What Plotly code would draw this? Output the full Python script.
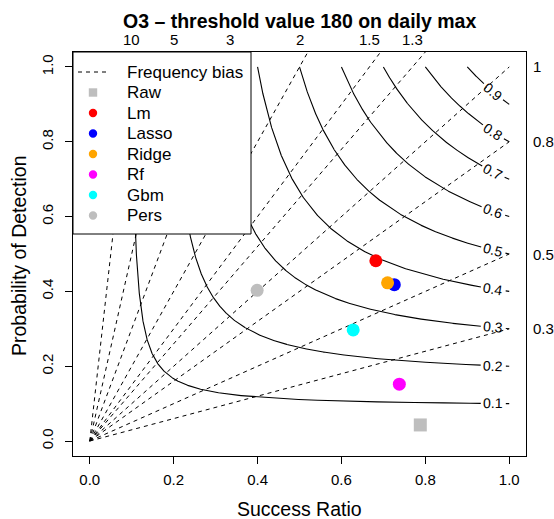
import numpy as np
import plotly.graph_objects as go

# ---------------- data ----------------
model_names = ["Raw", "Lm", "Lasso", "Ridge", "Rf", "Gbm", "Pers"]
model_colors = ["#BEBEBE", "#FF0000", "#0000FF", "#FFA500", "#FF00FF", "#00FFFF", "#BEBEBE"]
model_symbols = ["square", "circle", "circle", "circle", "circle", "circle", "circle"]
success_ratio = [0.788, 0.682, 0.726, 0.710, 0.738, 0.628, 0.399]
prob_detection = [0.043, 0.482, 0.418, 0.423, 0.152, 0.297, 0.403]

bias_levels = [0.3, 0.5, 0.8, 1, 1.3, 1.5, 2, 3, 5, 10]
top_bias_labels = [10, 5, 3, 2, 1.5, 1.3]
right_bias_labels = [1, 0.8, 0.5, 0.3]
csi_levels = [0.1, 0.2, 0.3, 0.4, 0.5, 0.6, 0.7, 0.8, 0.9]
axis_ticks = [0.0, 0.2, 0.4, 0.6, 0.8, 1.0]

# ---------------- layout geometry ----------------
W, H = 554, 519
L, R, T, B = 73, 28, 52, 63
PW, PH = W - L - R, H - T - B
RNG = [-0.04, 1.04]
FONT = "Liberation Sans, Arial, Helvetica, sans-serif"


def px_x(p):
    return (p - L) / PW


def px_y(p):
    return (H - B - p) / PH


def to_px(s, p):
    X = (s - RNG[0]) / (RNG[1] - RNG[0]) * PW
    Y = (p - RNG[0]) / (RNG[1] - RNG[0]) * PH
    return X, Y


fig = go.Figure()

# frequency bias lines (dashed)
for b in bias_levels:
    xe = min(1.0, RNG[1] / b)
    fig.add_trace(go.Scatter(x=[0, xe], y=[0, b * xe], mode="lines",
                             line=dict(color="black", width=1, dash="4px,4px"),
                             hoverinfo="skip", showlegend=False))

# CSI contours with label gaps
LAB_SR = 0.962
annotations = []
for c in csi_levels:
    s = np.linspace(c, 1.0, 3000)
    p = 1.0 / (1.0 / c - 1.0 / s + 1.0)
    X, Y = to_px(s, p)
    pl = 1.0 / (1.0 / c - 1.0 / LAB_SR + 1.0)
    lx, ly = to_px(LAB_SR, pl)
    d = np.hypot(X - lx, Y - ly)
    half = 12.5
    xs, ys = [], []
    m1 = (s < LAB_SR) & (d > half)
    m2 = (s > LAB_SR) & (d > half)
    xs += list(s[m1]) + [None] + list(s[m2])
    ys += list(p[m1]) + [None] + list(p[m2])
    fig.add_trace(go.Scatter(x=xs, y=ys, mode="lines",
                             line=dict(color="black", width=1.1),
                             hoverinfo="skip", showlegend=False, connectgaps=False))
    slope = (pl ** 2) / (LAB_SR ** 2)  # -dpod/dsr
    ang = np.degrees(np.arctan(slope * (PH / PW)))
    annotations.append(dict(x=LAB_SR, y=pl, xref="x", yref="y", text=f"{c:.1f}",
                            showarrow=False, textangle=ang, xanchor="center",
                            yanchor="middle", font=dict(size=14, color="black", family=FONT)))

# model points
for n, col, sym, sr, pod in zip(model_names, model_colors, model_symbols,
                                success_ratio, prob_detection):
    fig.add_trace(go.Scatter(x=[sr], y=[pod], mode="markers", name=n,
                             marker=dict(color=col, symbol=sym, size=13,
                                         line=dict(width=0)),
                             showlegend=False))

# top bias labels
for b in top_bias_labels:
    annotations.append(dict(x=1.0 / b, y=px_y(40), xref="x", yref="paper",
                            text=str(b), showarrow=False, xanchor="center", yanchor="middle",
                            font=dict(size=15, color="black", family=FONT)))
# right bias labels
for b in right_bias_labels:
    annotations.append(dict(x=px_x(531), y=b, xref="paper", yref="y",
                            text=str(b), showarrow=False, xanchor="left", yanchor="middle",
                            font=dict(size=15, color="black", family=FONT)))

# title and axis titles
annotations.append(dict(x=px_x(299), y=px_y(21), xref="paper", yref="paper",
                        text="<b>O3 – threshold value 180 on daily max</b>", showarrow=False,
                        xanchor="center", yanchor="middle",
                        font=dict(size=19.5, color="black", family=FONT)))
annotations.append(dict(x=px_x(299), y=px_y(508.5), xref="paper", yref="paper",
                        text="Success Ratio", showarrow=False,
                        xanchor="center", yanchor="middle",
                        font=dict(size=19.5, color="black", family=FONT)))
annotations.append(dict(x=px_x(19), y=px_y(256), xref="paper", yref="paper",
                        text="Probability of Detection", showarrow=False, textangle=-90,
                        xanchor="center", yanchor="middle",
                        font=dict(size=19.5, color="black", family=FONT)))

# legend (manual)
shapes = []
shapes.append(dict(type="rect", xref="paper", yref="paper", x0=px_x(73), x1=px_x(251),
                   y0=px_y(234), y1=px_y(52), fillcolor="white",
                   line=dict(color="black", width=1), layer="above"))
row_y = [72, 92.5, 113, 133.5, 154, 174.5, 195, 215.5]
shapes.append(dict(type="line", xref="paper", yref="paper", x0=px_x(78), x1=px_x(108),
                   y0=px_y(row_y[0]), y1=px_y(row_y[0]),
                   line=dict(color="black", width=1, dash="4px,4px"), layer="above"))
annotations.append(dict(x=px_x(125), y=px_y(row_y[0]), xref="paper", yref="paper",
                        text="Frequency bias", showarrow=False, xanchor="left", yanchor="middle",
                        font=dict(size=17, color="black", family=FONT)))
for i, (n, col, sym) in enumerate(zip(model_names, model_colors, model_symbols)):
    yy = row_y[i + 1]
    r = 4.2
    shapes.append(dict(type="rect" if sym == "square" else "circle",
                       xref="paper", yref="paper", xsizemode="pixel", ysizemode="pixel",
                       xanchor=px_x(93), yanchor=px_y(yy), x0=-r, x1=r, y0=-r, y1=r,
                       fillcolor=col, line=dict(width=0), layer="above"))
    annotations.append(dict(x=px_x(125), y=px_y(yy), xref="paper", yref="paper",
                            text=n, showarrow=False, xanchor="left", yanchor="middle",
                            font=dict(size=17, color="black", family=FONT)))

axis_common = dict(range=RNG, showgrid=False, zeroline=False, showline=True, mirror=True,
                   linecolor="black", linewidth=1, ticks="outside", ticklen=7,
                   tickcolor="black", tickwidth=1, tickvals=axis_ticks,
                   ticktext=[f"{v:.1f}" for v in axis_ticks],
                   tickfont=dict(size=15, color="black", family=FONT))

fig.update_layout(
    width=W, height=H, autosize=False,
    margin=dict(l=L, r=R, t=T, b=B),
    paper_bgcolor="white", plot_bgcolor="white",
    xaxis=dict(**axis_common, ticklabelstandoff=3),
    yaxis=dict(**axis_common, tickangle=-90, ticklabelstandoff=6),
    showlegend=False,
    annotations=annotations,
    shapes=shapes,
)

fig.write_html("out.html", config={"displayModeBar": False},
               post_script="document.body.style.margin='0px';document.body.style.padding='0px';")
